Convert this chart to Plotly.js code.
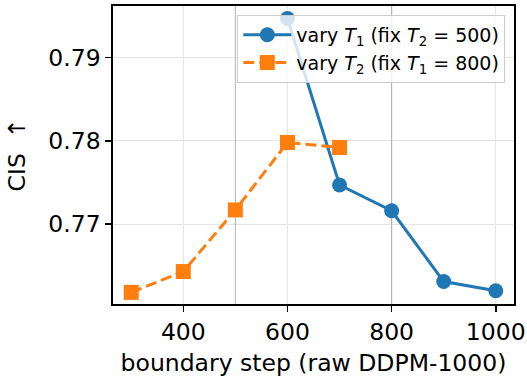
<!DOCTYPE html>
<html>
<head>
<meta charset="utf-8">
<script src="https://cdn.plot.ly/plotly-3.0.1.min.js"></script>
<style>html,body{margin:0;padding:0;background:#fff;}#chart{width:527px;height:381px;}</style>
</head>
<body>
<div id="chart"></div>
<script>
// Data
const fixT2 = 500;
const fixT1 = 800;
const t1Steps = [600, 700, 800, 900, 1000];
const t1CIS = [0.7947, 0.7747, 0.7716, 0.7631, 0.7620];
const t2Steps = [300, 400, 500, 600, 700];
const t2CIS = [0.7618, 0.7643, 0.7717, 0.7798, 0.7792];
const xTicks = [400, 600, 800, 1000];
const yTicks = [0.77, 0.78, 0.79];
const t1Name = 'vary <i>T</i><sub>1</sub> (fix <i>T</i><sub>2</sub> = ' + fixT2 + ')';
const t2Name = 'vary <i>T</i><sub>2</sub> (fix <i>T</i><sub>1</sub> = ' + fixT1 + ')';

const font = 'DejaVu Sans, sans-serif';
const yRange = [0.7604, 0.7962];

const refLines = [fixT2, fixT1].map(v => ({
  x: [v, v], y: yRange, type: 'scatter', mode: 'lines', showlegend: false, hoverinfo: 'skip',
  line: {color: 'rgba(128,128,128,0.5)', width: 1.2}
}));

const traces = refLines.concat([
  {
    x: t1Steps, y: t1CIS, name: t1Name, type: 'scatter', mode: 'lines+markers',
    line: {color: '#1f77b4', width: 3},
    marker: {color: '#1f77b4', size: 15, symbol: 'circle', line: {width: 0}}
  },
  {
    x: t2Steps, y: t2CIS, name: t2Name, type: 'scatter', mode: 'lines+markers',
    line: {color: '#ff7f0e', width: 3, dash: '11px,5px'},
    marker: {color: '#ff7f0e', size: 15, symbol: 'square', line: {width: 0}}
  }
]);

const layout = {
  width: 527, height: 381,
  margin: {l: 113, r: 13, t: 6, b: 77},
  paper_bgcolor: '#fff', plot_bgcolor: '#fff',
  font: {family: font, size: 23.5, color: '#000'},
  showlegend: true,
  legend: {
    x: 0.31, y: 0.97, xanchor: 'left', yanchor: 'top',
    bgcolor: 'rgba(255,255,255,0.8)', bordercolor: '#cccccc', borderwidth: 1,
    font: {family: font, size: 19, color: '#000'},
    itemwidth: 48
  },
  xaxis: {
    range: [265, 1035],
    tickvals: xTicks, ticktext: xTicks.map(String),
    tickfont: {family: font, size: 23.5},
    showgrid: true, gridcolor: '#e5e5e5', gridwidth: 1,
    showline: true, linecolor: '#000', linewidth: 1.6, mirror: true,
    ticks: 'outside', ticklen: 6, tickwidth: 1.5, tickcolor: '#000',
    zeroline: false,
    title: {text: 'boundary step (raw DDPM-1000)', font: {family: font, size: 23.5}, standoff: 10}
  },
  yaxis: {
    range: yRange,
    tickvals: yTicks, ticktext: yTicks.map(v => v.toFixed(2)),
    tickfont: {family: font, size: 23.5},
    showgrid: true, gridcolor: '#e5e5e5', gridwidth: 1,
    showline: true, linecolor: '#000', linewidth: 1.6, mirror: true,
    ticks: 'outside', ticklen: 6, tickwidth: 1.5, tickcolor: '#000',
    zeroline: false,
    title: {text: 'CIS\u00a0\u00a0↑', font: {family: font, size: 23.5}, standoff: 16}
  }
};

Plotly.newPlot('chart', traces, layout, {displayModeBar: false, staticPlot: true});
</script>
</body>
</html>
